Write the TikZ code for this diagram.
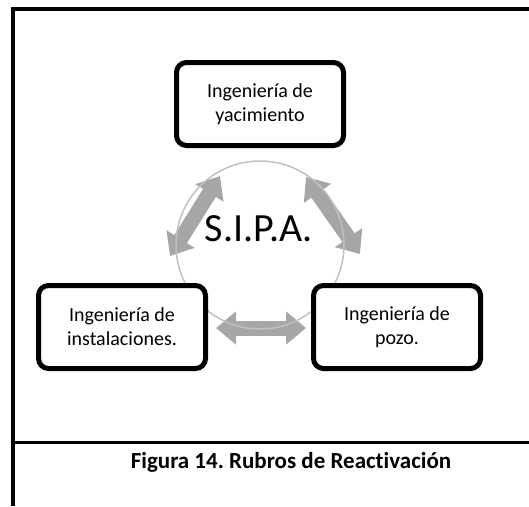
\documentclass[tikz,border=0pt]{standalone}
\usepackage{fontspec}
\setmainfont{Carlito}[Ligatures=NoCommon]
\usetikzlibrary{arrows.meta}
\definecolor{flechagris}{HTML}{A6A6A6}
\definecolor{anillogris}{HTML}{C0C0C0}
\frenchspacing

\begin{document}
\begin{tikzpicture}[x=1pt, y=-1pt,
    rubro/.style={draw, line width=5pt, rounded corners=10pt, fill=white,
      minimum width=167pt, minimum height=83pt, align=center,
      font=\fontsize{20}{24}\selectfont},
    enlace/.style={flechagris, line width=15pt,
      {Triangle[length=20pt,width=32pt]}-{Triangle[length=20pt,width=32pt]}}]
    \useasboundingbox (0,0) rectangle (529,506);

    % marco
    \draw[line width=4pt] (529,9) -- (13,9) -- (13,506);
    \draw[line width=3pt] (13,442) -- (529,442);

    % flechas del ciclo
    \coordinate (a1) at (170,256);
    \coordinate (a2) at (220,176);
    \coordinate (b1) at (306,177);
    \coordinate (b2) at (360,254);
    \coordinate (c1) at (216,328);
    \coordinate (c2) at (306,328);
    \draw[enlace] (a1) -- (a2);
    \draw[enlace] (b1) -- (b2);
    \draw[enlace] (c1) -- (c2);

    \node[circle, draw=anillogris, line width=1.5pt, minimum size=168pt] (ciclo) at (260,245) {};
    \node[font=\fontsize{40}{48}\selectfont] (sipa) at (259,229) {S.I.P.A.};

    \node[rubro] (yac) at (260,104) {Ingeniería de\\yacimiento};
    \node[rubro] (ins) at (122,327) {Ingeniería de\\instalaciones.};
    \node[rubro] (poz) at (397,327) {Ingeniería de\\pozo.};

    \node[font=\bfseries\fontsize{23}{28}\selectfont] (fig) at (291,462) {Figura 14. Rubros de Reactivación};
  \end{tikzpicture}
\end{document}
